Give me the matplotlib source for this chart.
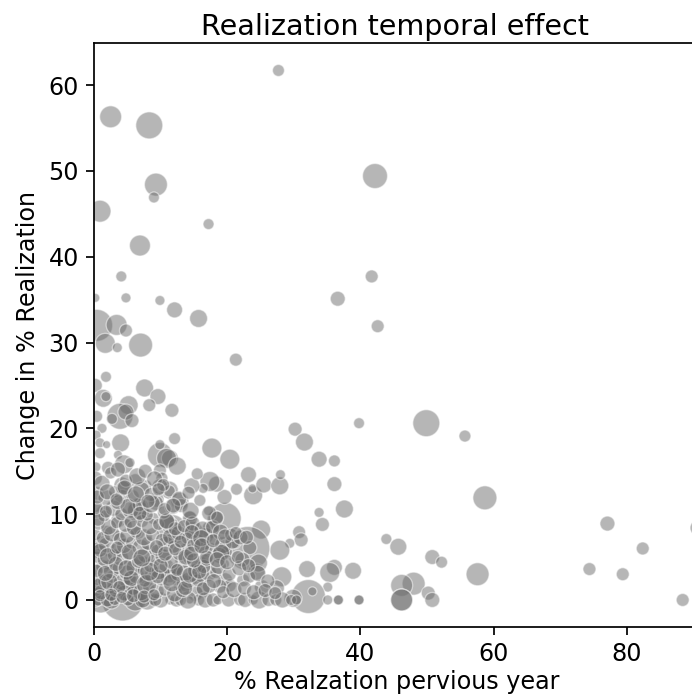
import matplotlib
matplotlib.use("Agg")
import matplotlib.pyplot as plt

prev_year = [
27.7,2.5,8.3,42.2,9.3,9.0,0.9,17.2,6.9,4.1,41.7,36.6,0.2,4.8,9.9,12.1,15.7,42.6,0.4,3.4,4.8,1.7,3.5,7.0,21.3,1.8,0.2,
7.6,9.6,8.3,11.7,1.4,1.8,5.2,3.9,4.8,2.7,5.7,0.4,1.2,0.3,4.0,0.9,1.9,0.9,0.3,3.6,4.5,5.4,2.1,12.1,9.9,9.9,11.4,10.9,12.5,9.9,10.2,
17.7,20.4,23.2,21.4,23.9,23.8,25.5,27.9,28.0,30.2,31.6,33.8,36.1,36.1,33.8,34.3,37.6,30.8,31.1,29.4,27.9,32.0,36.1,35.4,38.9,35.1,32.2,32.8,35.1,36.7,36.7,
25.1,23.1,23.4,19.7,18.2,17.5,17.2,19.6,18.4,17.4,16.4,14.7,15.5,11.3,7.8,6.2,4.2,4.2,6.7,12.9,9.4,14.4,11.7,14.9,16.6,13.9,19.2,19.9,21.2,22.3,19.6,24.4,24.7,22.4,25.2,28.2,27.4,19.7,20.4,15.4,11.9,12.9,16.4,15.2,15.7,
39.8,49.9,55.7,58.7,43.9,45.7,50.8,52.2,57.6,48.0,46.2,46.2,46.2,50.2,50.8,39.8,39.8,29.9,77.1,82.4,74.4,79.4,88.4,90.7,
1.4,6.65,3.65,5.0,8.9,11.4,14.4,1.9,3.65,6.65,11.4,14.65,1.15,4.4,9.15,13.9,0.65,2.15,3.65,5.4,10.65,7.65,2.15,13.4,9.15,11.4,1.15,2.9,5.4,7.9,13.65,1.15,6.9,8.55,11.4,14.4,1.15,2.65,4.4,5.65,
4.3,1.0,2.6,6.2,0.3,8.0,10.0,12.4,13.0,14.1,16.7,17.9,18.6,20.2,21.9,22.7,23.9,24.8,26.2,27.3,28.3,29.6,30.4,0.6,2.0,3.1,5.1,7.3,9.2,
0.3,1.1,2.4,3.3,4.6,5.9,7.1,8.2,9.4,10.6,12.1,13.3,0.5,1.7,2.8,4.2,5.3,6.4,7.6,8.7,10.1,11.2,12.6,14.2,15.3,0.2,1.3,2.6,3.7,4.9,6.1,7.4,8.5,9.8,10.9,12.3,13.6,15.1,16.2,0.4,1.6,3.0,4.0,5.2,6.6,7.8,9.0,10.3,11.6,12.9,14.3,15.8,17.1,
0.6,1.9,3.2,4.5,5.7,7.0,8.1,9.5,10.8,12.0,13.2,14.6,16.0,17.6,18.8,0.2,1.4,2.7,3.9,5.0,6.3,7.5,8.8,10.2,11.5,12.7,14.0,15.5,16.8,18.1,19.4,20.8,0.7,2.2,3.4,4.7,6.0,7.2,8.4,9.7,11.0,12.2,13.5,14.8,16.3,17.8,19.0,20.6,22.0,
0.3,1.5,2.9,4.1,5.5,6.8,8.0,9.3,10.5,11.8,13.1,14.5,15.9,17.3,18.5,0.5,1.8,3.1,4.4,5.8,7.1,8.6,9.9,11.3,12.8,14.2,0.2,1.2,2.5,3.6,4.8,6.5,7.7,9.1,10.4,
0.8,2.3,3.8,5.6,7.9,9.6,11.7,13.7,15.6,17.2,18.9,0.4,1.7,3.3,4.9,6.7,8.3,10.0,12.5,14.4,16.5,18.3,0.9,2.1,3.5,5.3,7.2,9.4,10.7,12.2,13.8,15.0,16.9,19.1,
13.0,14.7,16.1,0.6,5.5,10.9,0.3,1.8,3.6,5.1,6.9,8.6,10.6,0.5,2.0,3.4,4.6,6.3,8.1,9.7,11.9,0.9,2.6,4.2,5.9,7.5,9.0,
15.8,17.3,18.7,20.3,21.8,23.3,24.6,26.1,16.4,18.0,19.4,21.0,22.6,24.0,25.7,27.2,15.0,16.9,18.5,20.0,21.6,23.2,14.6,16.2,17.9,19.7,21.3,22.9,
]
change = [
61.7,56.3,55.3,49.4,48.4,46.9,45.3,43.8,41.3,37.7,37.7,35.1,35.2,35.2,34.9,33.8,32.8,31.9,32.0,32.05,31.4,29.9,29.4,29.7,28.0,26.0,25.0,
24.7,23.7,22.7,22.1,23.5,23.7,22.7,21.4,21.9,21.1,20.9,21.4,20.0,19.2,18.3,18.3,18.1,17.1,15.5,16.9,15.8,16.0,15.4,18.8,16.9,18.1,16.5,16.5,15.6,15.1,14.2,
17.7,16.4,14.6,12.9,12.2,13.0,13.4,13.3,14.6,19.9,18.4,16.4,16.2,13.5,10.2,8.8,10.6,7.9,7.0,6.6,5.8,3.6,3.8,3.2,3.4,1.5,0.4,1.0,0.0,0.0,0.0,
8.2,6.0,6.1,9.5,9.5,8.2,10.4,12.0,13.5,13.8,13.0,13.3,14.7,12.8,13.3,13.9,13.4,12.0,10.6,11.5,11.7,9.7,8.2,8.0,5.9,6.2,5.6,5.6,6.6,4.7,4.2,3.3,4.3,2.3,1.5,2.7,1.4,2.3,1.7,3.7,3.3,1.9,1.2,0.8,0.0,
20.6,20.6,19.1,11.9,7.1,6.2,5.0,4.4,3.0,1.9,1.7,0.0,0.0,0.8,0.0,0.0,0.0,0.2,8.9,6.0,3.6,3.0,0.0,8.4,
10.2,10.3,9.3,9.1,9.5,8.7,9.5,8.0,7.4,7.8,7.0,7.8,6.6,6.6,5.8,6.2,5.4,5.6,5.4,4.1,5.2,4.5,4.1,4.7,3.3,2.9,2.3,1.6,1.9,2.3,1.9,1.0,0.6,0.0,0.0,0.0,0.0,0.4,0.4,0.4,
0.0,0.0,0.0,0.0,0.0,0.0,0.0,0.0,0.0,0.0,0.0,0.0,0.0,0.0,0.0,0.0,0.0,0.0,0.0,0.0,0.0,0.0,0.0,0.0,0.0,0.0,0.0,0.0,0.0,
1.2,0.9,1.4,1.1,0.8,1.3,0.9,1.5,1.0,1.2,0.7,1.1,2.4,2.2,2.7,2.1,2.5,2.8,2.2,2.9,2.4,2.6,3.0,2.3,2.7,3.6,3.9,3.4,3.7,3.2,3.8,3.5,4.0,3.3,3.9,3.6,3.1,3.4,2.9,5.0,4.7,5.2,4.9,5.4,4.8,5.3,4.6,5.1,4.4,5.5,4.9,4.2,4.6,
6.0,6.4,5.9,6.3,6.7,6.1,6.6,5.8,6.5,6.2,6.9,5.7,6.4,5.9,5.2,7.6,7.2,7.7,7.1,7.5,7.9,7.3,7.6,7.0,7.4,7.8,7.2,6.9,7.5,7.1,6.4,6.8,8.9,8.5,9.0,8.7,8.4,9.2,8.6,8.8,9.1,8.3,8.6,8.9,8.2,8.5,7.9,7.6,7.3,
10.4,9.8,10.7,10.0,10.5,11.1,9.9,11.3,10.2,10.9,11.0,10.4,11.6,10.1,9.6,12.4,11.9,12.6,13.0,12.1,12.8,12.3,13.2,12.7,11.8,12.5,14.2,13.6,14.8,15.2,13.9,14.4,15.0,14.1,13.4,
1.7,2.1,1.5,2.5,1.8,2.7,2.0,1.4,2.3,3.1,1.6,3.4,3.1,4.2,3.7,4.5,3.3,4.0,3.5,2.9,3.9,3.2,5.8,5.1,6.1,5.6,4.9,6.2,5.4,5.9,5.0,6.4,4.7,5.5,
6.8,7.9,7.2,9.4,9.1,9.2,10.8,10.3,11.4,10.9,10.1,11.2,10.6,12.0,12.6,11.7,13.1,12.3,11.5,12.9,11.0,0.5,0.6,0.3,0.5,0.4,0.6,
3.3,1.6,3.9,3.0,3.7,2.7,3.1,2.2,1.3,2.2,0.9,1.2,1.4,0.9,1.1,0.8,4.6,5.0,4.7,4.4,5.0,4.0,5.4,6.3,6.9,7.4,7.8,7.3,
]
bubble = [
12,22,27,25,23,11,22,11,21,11,13,15,9,10,10,16,18,13,32,21,13,20,10,24,13,11,14,
18,16,13,14,18,10,19,26,16,11,14,12,10,10,18,10,8,11,10,9,19,10,13,12,25,10,17,20,18,13,12,
20,20,16,12,19,9,16,18,10,14,18,16,12,15,10,14,18,13,14,10,20,17,16,20,17,10,34,9,10,10,10,
19,44,14,32,16,18,10,15,16,20,10,16,12,18,12,14,16,15,22,18,15,12,30,20,15,10,19,12,11,15,10,17,18,13,15,20,16,15,13,16,16,14,16,16,12,
11,27,12,24,11,17,15,12,23,23,22,22,22,14,15,10,10,18,15,13,13,13,13,16,
15,22,15,8,12,17,15,12,12,13,12,17,15,11,12,9,10,10,10,13,12,10,10,17,12,15,12,10,18,13,17,8,8,10,10,8,8,10,10,8,
42,26,18,22,14,20,16,14,12,18,16,14,10,14,12,15,10,18,13,12,16,11,10,12,14,11,12,16,13,
13,15,12,14,16,13,17,12,15,13,16,14,12,15,13,17,14,16,12,15,13,17,14,16,15,12,14,16,13,15,17,12,14,16,15,13,17,14,15,12,15,13,16,14,12,17,13,15,14,16,13,17,14,
13,16,12,15,13,17,14,12,16,13,15,14,17,13,16,12,14,16,13,15,12,17,14,13,16,15,12,14,16,13,17,15,13,16,12,14,15,13,17,12,16,14,13,15,17,14,16,13,15,
15,12,16,13,17,14,12,15,13,16,14,17,12,15,13,14,16,12,15,13,17,14,16,12,15,13,14,16,12,15,13,17,14,16,13,
15,17,13,16,20,14,18,15,13,16,14,13,16,15,17,14,19,15,13,16,14,12,14,17,13,16,18,14,15,13,16,14,13,17,
13,15,17,14,13,16,14,13,15,16,14,18,13,14,16,13,15,17,14,13,15,12,13,12,14,13,12,
15,14,16,14,15,13,16,14,14,15,13,16,14,15,14,13,15,14,16,15,13,14,15,16,14,15,13,14,
]

DPI = 156
areas = [(d * 72 / DPI) ** 2 for d in bubble]

plt.rcParams["font.size"] = 11
fig = plt.figure(figsize=(692 / DPI, 698 / DPI), dpi=DPI)
ax = fig.add_axes([94 / 692, (698 - 627) / 698, 606 / 692, 584 / 698])
ax.scatter(prev_year, change, s=areas, c="#6e6e6e", alpha=0.5,
           edgecolors="white", linewidths=0.6)
ax.set_xlim(0, 91)
ax.set_ylim(-3.15, 64.9)
ax.set_xticks([0, 20, 40, 60, 80])
ax.set_yticks([0, 10, 20, 30, 40, 50, 60])
ax.set_title("Realization temporal effect", fontsize=13.2, pad=3.7, x=0.496)
ax.set_xlabel("% Realzation pervious year", labelpad=1.7)
ax.set_ylabel("Change in % Realization")
fig.savefig("out.png", dpi=DPI)
